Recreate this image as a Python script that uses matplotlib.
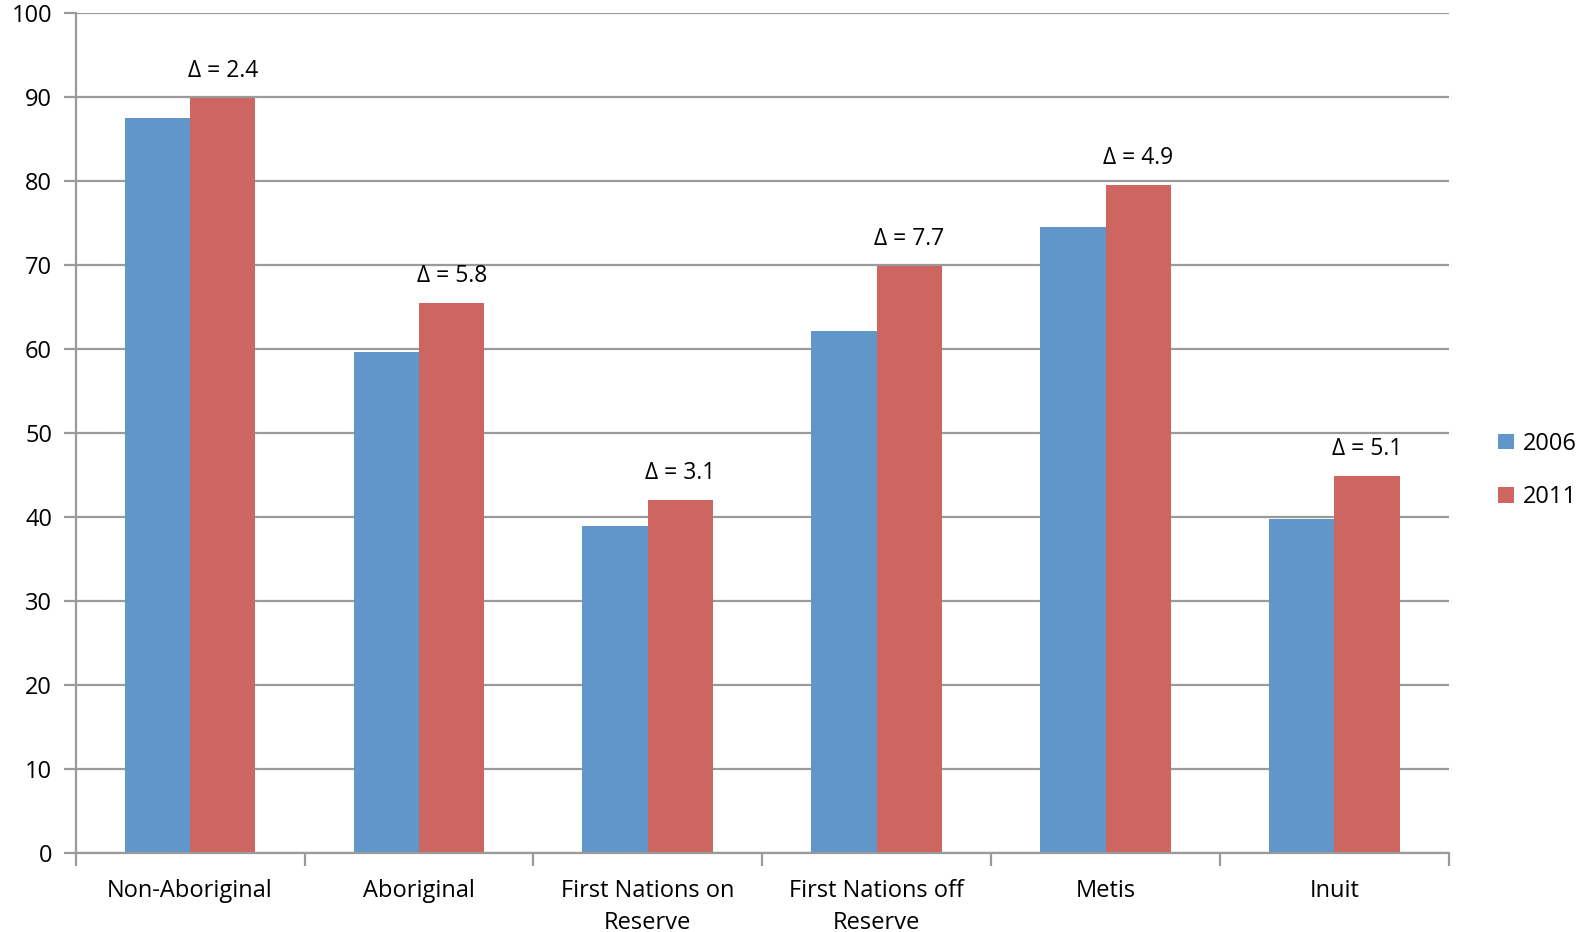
import matplotlib.pyplot as plt
import numpy as np

# dados #
categorias = ['Non-Aboriginal', 'Aboriginal', 'First Nations on\nReserve',
              'First Nations off\nReserve', 'Metis', 'Inuit']
valores_2006 = [87.5, 59.7, 38.9, 62.2, 74.6, 39.8]
valores_2011 = [89.9, 65.5, 42.0, 69.9, 79.5, 44.9]
deltas = ['2.4', '5.8', '3.1', '7.7', '4.9', '5.1']

plt.rcParams['font.family'] = ['Open Sans', 'DejaVu Sans']

cor_2006 = '#6096C9'
cor_2011 = '#CD6660'
cinza = '#9a9a9a'

fig = plt.figure(figsize=(15.83, 9.32), dpi=100)
ax = fig.add_axes([0.0478, 0.0851, 0.8675, 0.9006])

x = np.arange(len(categorias))
larg = 0.2857
ax.bar(x - larg / 2, valores_2006, width=larg, color=cor_2006, label='2006', zorder=2)
ax.bar(x + larg / 2, valores_2011, width=larg, color=cor_2011, label='2011', zorder=2)

# rotulos delta #
for xi, v, d in zip(x, valores_2011, deltas):
    ax.annotate(f'Δ = {d}', (xi + larg / 2, v), xytext=(0, 11), textcoords='offset points',
                ha='center', va='bottom', fontsize=16.5)

ax.set_ylim(0, 100)
ax.set_xlim(-0.5, len(categorias) - 0.5)
ax.set_yticks(range(0, 101, 10))
ax.yaxis.grid(True, color=cinza, linewidth=1.6, zorder=0)
ax.set_axisbelow(True)

ax.set_xticks(np.arange(-0.5, len(categorias), 1.0))
ax.set_xticklabels([])
ax.set_xticks(x, minor=True)
ax.set_xticklabels(categorias, minor=True, fontsize=17, linespacing=1.45)
ax.tick_params(axis='x', which='minor', length=0, pad=19)
ax.tick_params(axis='x', which='major', length=9, width=1.6, color=cinza, direction='out')
ax.tick_params(axis='y', length=9, width=1.6, color=cinza, direction='out', labelsize=17, pad=8)

for lado in ['top', 'right']:
    ax.spines[lado].set_visible(False)
for lado in ['left', 'bottom']:
    ax.spines[lado].set_color(cinza)
    ax.spines[lado].set_linewidth(1.6)

fig.legend(loc='center left', bbox_to_anchor=(0.933, 0.495), frameon=False, fontsize=17,
           handlelength=0.65, handleheight=0.65, handletextpad=0.4, labelspacing=1.25)

fig.savefig('out.png', dpi=100)
